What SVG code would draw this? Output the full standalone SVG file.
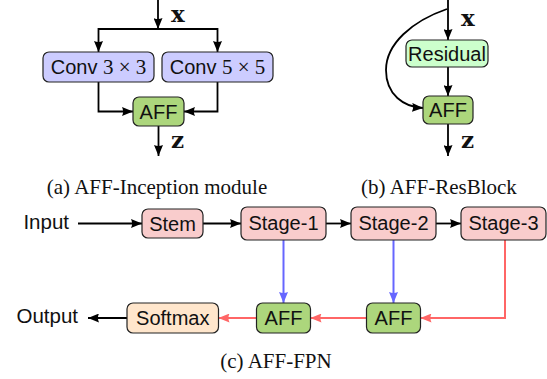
<svg xmlns="http://www.w3.org/2000/svg" width="547" height="379" viewBox="0 0 547 379">
<style>
.box{stroke:#222;stroke-width:1.2}
.conv{fill:#ccccff}
.aff{fill:#acd67c}
.res{fill:#ccffcc}
.stage{fill:#f9cccc}
.soft{fill:#ffe6cc}
.n{font-family:"Liberation Sans",Arial,sans-serif;font-size:20px;text-anchor:middle;fill:#111}
.m{font-family:"Liberation Serif","Times New Roman",serif;font-size:21px}
.lbl{font-family:"Liberation Sans",Arial,sans-serif;font-size:20.5px;fill:#111}
.var{font-family:"DejaVu Serif",serif;font-weight:bold;font-size:23px;fill:#111}
.cap{font-family:"Liberation Serif","Times New Roman",serif;font-size:21px;text-anchor:middle;fill:#111}
.k{fill:none;stroke:#000;stroke-width:1.8;marker-end:url(#ak)}
.b{fill:none;stroke:#6666ff;stroke-width:2;marker-end:url(#ab)}
.r{fill:none;stroke:#ff6666;stroke-width:2;marker-end:url(#ar)}
</style>
<defs>
<marker id="ak" viewBox="0 0 11 9" refX="11" refY="4.5" markerWidth="11" markerHeight="9" markerUnits="userSpaceOnUse" orient="auto"><path d="M0,0 L11,4.5 L0,9 Q2.2,4.5 0,0 z" fill="#000"/></marker>
<marker id="ab" viewBox="0 0 11 9" refX="11" refY="4.5" markerWidth="11" markerHeight="9" markerUnits="userSpaceOnUse" orient="auto"><path d="M0,0 L11,4.5 L0,9 Q2.2,4.5 0,0 z" fill="#6666ff"/></marker>
<marker id="ar" viewBox="0 0 11 9" refX="11" refY="4.5" markerWidth="11" markerHeight="9" markerUnits="userSpaceOnUse" orient="auto"><path d="M0,0 L11,4.5 L0,9 Q2.2,4.5 0,0 z" fill="#ff6666"/></marker>
</defs>

<g id="connectors">
<path class="k" d="M158,0 V29"/>
<path class="k" d="M158,29 H98.5 V52"/>
<path class="k" d="M158,29 H217.5 V52"/>
<path class="k" d="M98.5,82 V111.5 H133"/>
<path class="k" d="M217.5,82 V111.5 H184"/>
<path class="k" d="M158.5,126 V156"/>
<path class="k" d="M448,0 V40"/>
<path class="k" d="M448,67 V96"/>
<path class="k" d="M447,9 C412,21 386,44 386,70 C386,95 404,107 423,108"/>
<path class="k" d="M448,124 V156"/>
<path class="k" d="M78,223.5 H142"/>
<path class="k" d="M203,223.5 H241"/>
<path class="k" d="M326,223.5 H351"/>
<path class="k" d="M436,223.5 H461"/>
<path class="b" d="M283.5,240 V303"/>
<path class="b" d="M393.5,240 V303"/>
<path class="r" d="M505,240 V318 H420.5"/>
<path class="r" d="M366.5,318 H310.5"/>
<path class="r" d="M256.5,318 H218.5"/>
<path class="k" d="M127,318 H88"/>
</g>

<g id="label-x-a"><text class="var" x="171" y="22">x</text></g>
<g id="label-z-a"><text class="var" x="171" y="148">z</text></g>
<g id="label-x-b"><text class="var" x="461" y="26">x</text></g>
<g id="label-z-b"><text class="var" x="461" y="148">z</text></g>

<g id="conv3"><rect class="box conv" x="43" y="52" width="111" height="30" rx="6"/><text class="n" x="98.5" y="74">Conv <tspan class="m">3 × 3</tspan></text></g>
<g id="conv5"><rect class="box conv" x="162" y="52" width="111" height="30" rx="6"/><text class="n" x="217.5" y="74">Conv <tspan class="m">5 × 5</tspan></text></g>
<g id="aff-a"><rect class="box aff" x="133" y="97" width="51" height="29" rx="6"/><text class="n" x="158.5" y="119">AFF</text></g>

<g id="residual"><rect class="box res" x="406" y="40" width="82" height="27" rx="6"/><text class="n" x="447" y="60.5">Residual</text></g>
<g id="aff-b"><rect class="box aff" x="423" y="96" width="50" height="28" rx="6"/><text class="n" x="448" y="117">AFF</text></g>

<g id="caption-a"><text class="cap" x="157" y="194">(a) AFF-Inception module</text></g>
<g id="caption-b"><text class="cap" x="439" y="194">(b) AFF-ResBlock</text></g>

<g id="input"><text class="lbl" x="69" y="229" text-anchor="end">Input</text></g>
<g id="stem"><rect class="box stage" x="142" y="209" width="61" height="29" rx="6"/><text class="n" x="172.5" y="230.5">Stem</text></g>
<g id="stage1"><rect class="box stage" x="241" y="207" width="85" height="33" rx="6"/><text class="n" x="283.5" y="230">Stage-1</text></g>
<g id="stage2"><rect class="box stage" x="351" y="207" width="85" height="33" rx="6"/><text class="n" x="393.5" y="230">Stage-2</text></g>
<g id="stage3"><rect class="box stage" x="461" y="207" width="85" height="33" rx="6"/><text class="n" x="503.5" y="230">Stage-3</text></g>
<g id="aff1"><rect class="box aff" x="256.5" y="303" width="54" height="30" rx="6"/><text class="n" x="283.5" y="325">AFF</text></g>
<g id="aff2"><rect class="box aff" x="366.5" y="303" width="54" height="30" rx="6"/><text class="n" x="393.5" y="325">AFF</text></g>
<g id="softmax"><rect class="box soft" x="127" y="303" width="91.5" height="30" rx="6"/><text class="n" x="172.75" y="325">Softmax</text></g>
<g id="output"><text class="lbl" x="78" y="323" text-anchor="end">Output</text></g>
<g id="caption-c"><text class="cap" x="276" y="368">(c) AFF-FPN</text></g>
</svg>
